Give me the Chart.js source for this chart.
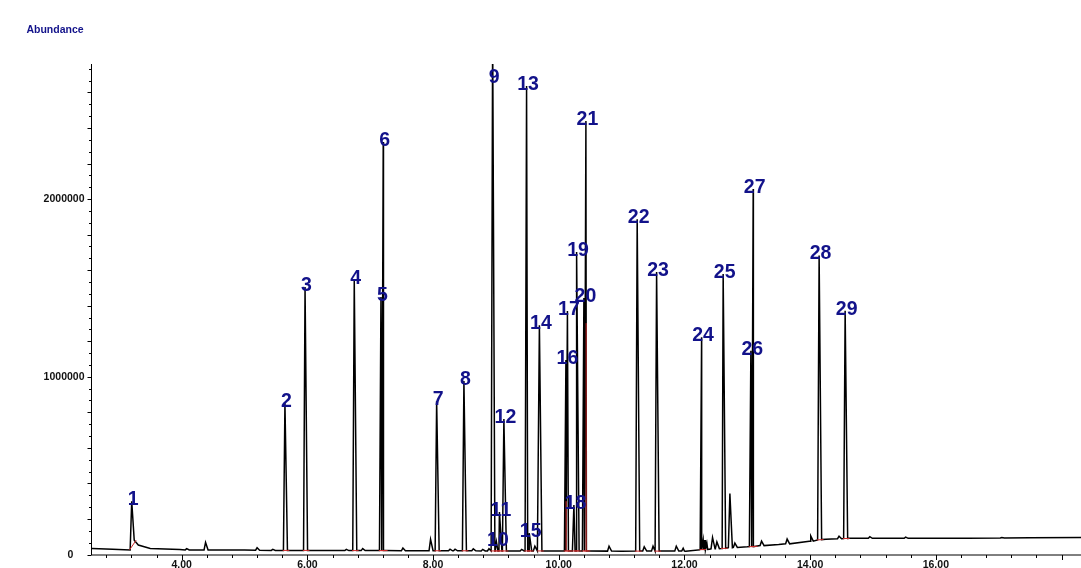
<!DOCTYPE html>
<html>
<head>
<meta charset="utf-8">
<title>TIC chromatogram</title>
<script src="https://cdn.jsdelivr.net/npm/chart.js@4.4.1/dist/chart.umd.min.js"></script>
<style>
  html, body { margin: 0; padding: 0; background: #ffffff; }
  #wrap { width: 1081px; height: 568px; position: relative; }
  canvas { display: block; }
</style>
</head>
<body>
<div id="wrap"><canvas id="tic" width="1081" height="568"></canvas></div>
<script>
// Integrated (numbered) peaks: retention time (min), apex abundance, baseline under the peak
const peakNo     = [1, 2, 3, 4, 5, 6, 7, 8, 9, 10, 11, 12, 13, 14, 15, 16, 17, 18, 19, 20, 21, 22, 23, 24, 25, 26, 27, 28, 29];
const peakTime   = [3.205, 5.643, 5.963, 6.746, 7.171, 7.207, 8.057, 8.491, 8.948, 9.008, 9.056, 9.127, 9.488, 9.692, 9.530,
                    10.114, 10.138, 10.241, 10.284, 10.400, 10.432, 11.248, 11.557, 12.273, 12.616, 13.057, 13.094, 14.143, 14.557];
const peakHeight = [300000, 852000, 1505000, 1544000, 1449000, 2321000, 863000, 976000, 2950000, 72000, 239000, 762000, 2636000, 1290000, 120000,
                    1094000, 1370000, 278000, 1702000, 1443000, 2439000, 1887000, 1589000, 1223000, 1578000, 1147000, 2056000, 1682000, 1372000];
const peakBase   = [26000, 23000, 23000, 22000, 22000, 22000, 21000, 21000, 20000, 20000, 20000, 20000, 20000, 20000, 20000,
                    20000, 20000, 20000, 20000, 20000, 20000, 19000, 19000, 27000, 34000, 44000, 45000, 82000, 90000];
const peakEnd    = [80000, 23000, 23000, 22000, 22000, 22000, 21000, 21000, 20000, 20000, 20000, 20000, 20000, 20000, 20000,
                    20000, 20000, 20000, 20000, 20000, 20000, 19000, 19000, 28000, 35000, 44000, 46000, 84000, 90000];

// Small unnumbered peaks
const minorTime   = [4.08, 4.38, 5.20, 5.45, 6.62, 6.88, 7.52, 7.96, 8.27, 8.35, 8.64, 8.79, 8.89, 9.41, 9.62,
                     10.80, 11.36, 11.50, 11.87, 11.98, 12.298, 12.33, 12.357, 12.447, 12.516, 12.723, 12.802,
                     13.227, 13.634, 14.01, 14.46, 14.95, 15.52, 17.05];
const minorHeight = [33000, 68000, 38000, 29000, 29000, 33000, 36000, 85000, 30000, 30000, 32000, 29000, 33000, 29000, 47000,
                     47000, 43000, 47000, 47000, 35000, 81000, 81000, 64000, 96000, 71000, 343000, 64000,
                     75000, 87000, 104000, 103000, 100000, 98000, 96000];
const minorBase   = [26000, 26000, 24000, 23000, 22000, 22000, 21000, 21000, 21000, 21000, 21000, 20000, 20000, 20000, 20000,
                     19000, 19000, 19000, 19000, 19000, 28000, 29000, 30000, 32000, 33000, 38000, 40000,
                     50000, 60000, 75000, 89000, 91000, 91000, 93000];

// Baseline (drift) between peaks
const baseTime  = [2.573, 2.9, 3.18, 3.31, 3.50, 3.97, 4.5, 5.0, 5.6, 6.5, 8.0, 9.0, 10.0, 11.0, 12.0, 12.25, 12.6, 13.0,
                   13.5, 14.0, 14.25, 14.6, 15.5, 16.5, 17.5, 18.31];
const baseValue = [34000, 29000, 26000, 53000, 34000, 28000, 26000, 25000, 23000, 22000, 21000, 20000, 19000, 18000, 20000, 25000, 34000, 43000,
                   56000, 75000, 86000, 91000, 91000, 92000, 94000, 96000];

// Red drop lines of the integrator
const dropTime = [10.114, 10.432];
const dropTop  = [300000, 1302000];

// Axis tick labels
const xTickLabels = ['4.00', '6.00', '8.00', '10.00', '12.00', '14.00', '16.00'];
const xTickValues = [4, 6, 8, 10, 12, 14, 16];
const yTickLabels = ['0', '1000000', '2000000'];
const yTickValues = [0, 1000000, 2000000];

const X_MIN = 2.573, X_MAX = 18.31, Y_MAX = 2760000;
const FOOT_L = 0.024, FOOT_R = 0.04;

// Assemble the trace from the baseline knots and the peak triangles
const trace = [];
baseTime.forEach((t, i) => trace.push({ x: t, y: baseValue[i] }));
peakTime.forEach((t, i) => {
  trace.push({ x: t - FOOT_L, y: peakBase[i] });
  trace.push({ x: t, y: peakHeight[i] });
  trace.push({ x: t + FOOT_R, y: peakEnd[i] });
});
minorTime.forEach((t, i) => {
  trace.push({ x: t - FOOT_L, y: minorBase[i] });
  trace.push({ x: t, y: minorHeight[i] });
  trace.push({ x: t + FOOT_R, y: minorBase[i] });
});
trace.sort((a, b) => a.x - b.x);

// Red integration baselines under numbered peaks, plus drop lines
const integ = [];
peakTime.forEach((t, i) => {
  integ.push({ x: t - 0.035, y: peakBase[i] });
  integ.push({ x: t + 0.07, y: peakEnd[i] });
  integ.push({ x: t + 0.07, y: null });
});
dropTime.forEach((t, i) => {
  integ.push({ x: t + 0.004, y: peakBase[0] });
  integ.push({ x: t + 0.004, y: dropTop[i] });
  integ.push({ x: t + 0.004, y: null });
});

const NAVY = '#12128a';
const FONT = '"Liberation Sans", Arial, Helvetica, sans-serif';

const axesPlugin = {
  id: 'chemAxes',
  beforeDatasetsDraw(chart) {
    const { ctx, chartArea: a, scales: { x, y } } = chart;
    ctx.save();
    ctx.strokeStyle = '#000';
    ctx.lineWidth = 1;
    ctx.beginPath();
    ctx.moveTo(a.left - 0.5, a.top);
    ctx.lineTo(a.left - 0.5, a.bottom + 0.5);
    ctx.lineTo(a.right, a.bottom + 0.5);
    ctx.stroke();

    // y ticks: long every 200000, short in thirds
    ctx.beginPath();
    for (let i = 0; i * 200000 / 3 <= Y_MAX; i++) {
      const py = Math.round(y.getPixelForValue(i * 200000 / 3)) + 0.5;
      const len = (i % 3 === 0) ? 4 : 2.5;
      ctx.moveTo(a.left - 0.5, py);
      ctx.lineTo(a.left - 0.5 - len, py);
    }
    // x ticks: every 0.4 min, long every 2 min
    for (let k = 7; k * 0.4 <= X_MAX; k++) {
      const px = Math.round(x.getPixelForValue(k * 0.4)) + 0.5;
      const len = (k % 5 === 0) ? 5 : 3;
      ctx.moveTo(px, a.bottom + 0.5);
      ctx.lineTo(px, a.bottom + 0.5 + len);
    }
    ctx.stroke();

    ctx.fillStyle = '#111';
    ctx.font = 'bold 10.5px ' + FONT;
    ctx.textBaseline = 'middle';
    yTickValues.forEach((v, i) => {
      const py = y.getPixelForValue(v);
      if (v === 0) {
        ctx.textAlign = 'center';
        ctx.fillText(yTickLabels[i], 70.5, py + 0.5);
      } else {
        ctx.textAlign = 'right';
        ctx.fillText(yTickLabels[i], a.left - 7.5, py);
      }
    });
    ctx.textAlign = 'center';
    ctx.textBaseline = 'top';
    ctx.font = 'bold 10.5px ' + FONT;
    xTickValues.forEach((v, i) => {
      ctx.fillText(xTickLabels[i], x.getPixelForValue(v), a.bottom + 5);
    });

    ctx.fillStyle = NAVY;
    ctx.font = 'bold 10.5px ' + FONT;
    ctx.textAlign = 'center';
    ctx.textBaseline = 'middle';
    ctx.fillText('Abundance', 55, 30.5);
    ctx.restore();
  },
  afterDatasetsDraw(chart) {
    const { ctx, chartArea: a, scales: { x, y } } = chart;
    ctx.save();
    ctx.fillStyle = NAVY;
    ctx.font = 'bold 19.5px ' + FONT;
    ctx.textAlign = 'center';
    ctx.textBaseline = 'middle';
    peakNo.forEach((n, i) => {
      const px = x.getPixelForValue(peakTime[i]) + 1.5;
      const py = Math.max(y.getPixelForValue(peakHeight[i]) - 1.5, a.top + 13.5);
      ctx.fillText(String(n), px, py);
    });
    ctx.restore();
  }
};

new Chart(document.getElementById('tic'), {
  type: 'line',
  data: {
    datasets: [
      {
        data: integ,
        borderColor: '#cc2a2a',
        borderWidth: 1,
        pointRadius: 0,
        spanGaps: false,
        order: 0
      },
      {
        data: trace,
        borderColor: '#000000',
        borderWidth: 1.5,
        pointRadius: 0,
        tension: 0,
        order: 1
      }
    ]
  },
  options: {
    responsive: false,
    animation: false,
    devicePixelRatio: 1,
    layout: { padding: { left: 92, top: 64, right: 0, bottom: 13.5 } },
    scales: {
      x: { type: 'linear', min: X_MIN, max: X_MAX, display: false },
      y: { type: 'linear', min: 0, max: Y_MAX, display: false }
    },
    plugins: { legend: { display: false }, tooltip: { enabled: false } },
    events: []
  },
  plugins: [axesPlugin]
});
</script>
</body>
</html>
